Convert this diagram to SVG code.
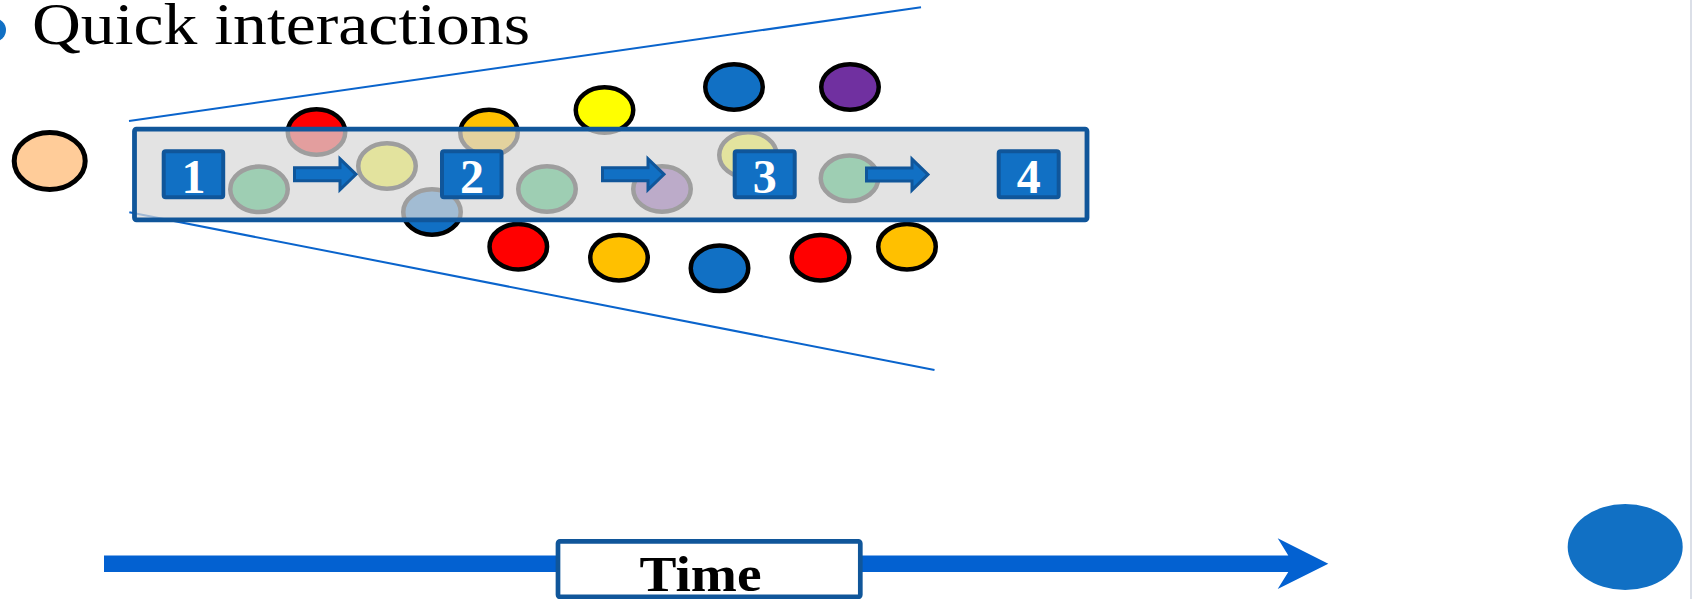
<svg xmlns="http://www.w3.org/2000/svg" width="1692" height="599" viewBox="0 0 1692 599">
  <style>
    .dot { stroke: #000000; stroke-width: 4.5; }
    .box { fill: #1170C4; stroke: #10569A; stroke-width: 4; }
    .num { font-family: "Liberation Serif", "Times New Roman", serif; font-weight: bold; font-size: 48px; fill: #FFFFFF; text-anchor: middle; }
    .fan { stroke: #0A64CC; stroke-width: 2; fill: none; }
    .red { fill: #FF0000; } .grn { fill: #00B050; } .yel { fill: #FFFF00; }
    .blu { fill: #1170C4; } .org { fill: #FFC000; } .pur { fill: #7030A0; }
  </style>
  <defs>
    <path id="blockArrow" d="M1.5,-6.5 H47 V-15.5 L63,0 L47,15.5 V6.5 H1.5 Z" fill="#1170C4" stroke="#10569A" stroke-width="3"/>
  </defs>
  <rect x="0" y="0" width="1692" height="599" fill="#FFFFFF"/>
  <line x1="1691" y1="0" x2="1691" y2="599" stroke="#C3CAD8" stroke-width="1.2"/>

  <g id="title">
    <circle cx="-5.7" cy="30" r="11.7" fill="#1170C4"/>
    <text x="32" y="44" font-family="'Liberation Serif', 'Times New Roman', serif" font-size="60" textLength="498" lengthAdjust="spacingAndGlyphs" fill="#000000">Quick interactions</text>
  </g>

  <g id="connectors">
    <line class="fan" x1="129" y1="121" x2="921" y2="7.3"/>
    <line class="fan" x1="129.3" y1="212.3" x2="934.5" y2="370"/>
    <path id="time-arrow" d="M104,555.5 H1288.3 L1277.7,538.3 L1328.3,563.7 L1277.7,589 L1288.3,572 H104 Z" fill="#0361D1"/>
  </g>

  <g id="peach-node">
    <ellipse cx="49.7" cy="161" rx="35.5" ry="28.5" fill="#FFCC99" stroke="#000000" stroke-width="5"/>
  </g>

  <g id="interactions">
    <ellipse id="e-red1" class="dot red" cx="316.5" cy="132" rx="28.75" ry="22.75"/>
    <ellipse id="e-grn1" class="dot grn" cx="259" cy="189.3" rx="28.75" ry="22.75"/>
    <ellipse id="e-yel1" class="dot yel" cx="387" cy="166" rx="28.75" ry="22.75"/>
    <ellipse id="e-blu1" class="dot blu" cx="432" cy="212" rx="28.75" ry="22.75"/>
    <ellipse id="e-org1" class="dot org" cx="489" cy="132.5" rx="28.75" ry="22.75"/>
    <ellipse id="e-grn2" class="dot grn" cx="547" cy="189" rx="28.75" ry="22.75"/>
    <ellipse id="e-yel2" class="dot yel" cx="604.5" cy="110" rx="28.75" ry="22.75"/>
    <ellipse id="e-pur1" class="dot pur" cx="662" cy="189" rx="28.75" ry="22.75"/>
    <ellipse id="e-yel3" class="dot yel" cx="748" cy="155" rx="28.75" ry="22.75"/>
    <ellipse id="e-grn3" class="dot grn" cx="849.5" cy="178.3" rx="28.75" ry="22.75"/>
    <ellipse id="e-blu2" class="dot blu" cx="734" cy="87" rx="28.75" ry="22.75"/>
    <ellipse id="e-pur2" class="dot pur" cx="850" cy="87" rx="28.75" ry="22.75"/>
    <ellipse id="e-red2" class="dot red" cx="518.3" cy="246.7" rx="28.75" ry="22.75"/>
    <ellipse id="e-org2" class="dot org" cx="619" cy="257.7" rx="28.75" ry="22.75"/>
    <ellipse id="e-blu3" class="dot blu" cx="719.5" cy="268.3" rx="28.75" ry="22.75"/>
    <ellipse id="e-red3" class="dot red" cx="820.5" cy="257.7" rx="28.75" ry="22.75"/>
    <ellipse id="e-org3" class="dot org" cx="907" cy="246.7" rx="28.75" ry="22.75"/>
  </g>

  <g id="band">
    <rect x="134.5" y="129.2" width="952.5" height="90.6" rx="2" fill="#D8D8D8" fill-opacity="0.73" stroke="#10569A" stroke-width="4.8"/>
  </g>

  <g id="step-1"><rect class="box" x="163.7" y="151.3" width="59.5" height="46" rx="2"/><text class="num" x="193.5" y="192.7">1</text></g>
  <g id="step-2"><rect class="box" x="442" y="151.3" width="59.5" height="46" rx="2"/><text class="num" x="472" y="192.7">2</text></g>
  <g id="step-3"><rect class="box" x="734.7" y="151.3" width="60" height="46" rx="2"/><text class="num" x="764.7" y="192.7">3</text></g>
  <g id="step-4"><rect class="box" x="998.7" y="151.3" width="60" height="46" rx="2"/><text class="num" x="1028.7" y="192.7">4</text></g>

  <g id="step-connectors">
    <use href="#blockArrow" x="293" y="174.3"/>
    <use href="#blockArrow" x="601" y="174.3"/>
    <use href="#blockArrow" x="865" y="174.6"/>
  </g>

  <g id="time-label">
    <rect x="558" y="541.4" width="302.3" height="55.4" rx="2" fill="#FFFFFF" stroke="#10569A" stroke-width="4.7"/>
    <text x="700.5" y="591" font-family="'Liberation Serif', 'Times New Roman', serif" font-weight="bold" font-size="51" text-anchor="middle" textLength="122" lengthAdjust="spacingAndGlyphs" fill="#000000">Time</text>
  </g>

  <g id="blue-node">
    <ellipse cx="1625.2" cy="547" rx="57.5" ry="43" fill="#1170C4"/>
  </g>
</svg>
